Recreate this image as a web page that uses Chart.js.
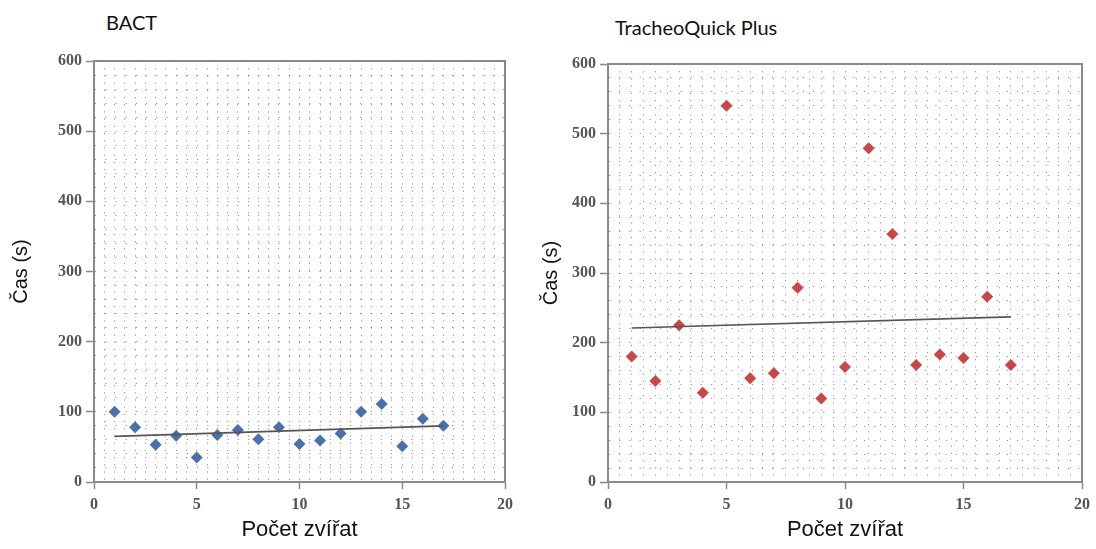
<!DOCTYPE html>
<html>
<head>
<meta charset="utf-8">
<script src="https://cdn.jsdelivr.net/npm/chart.js@4.4.1/dist/chart.umd.min.js"></script>
<style>
  html, body { margin: 0; padding: 0; background: #fff; }
  body { width: 1096px; height: 549px; position: relative; overflow: hidden; }
  .wrap { position: absolute; top: 0; height: 549px; }
  .title { position: absolute; font-family: Lato, "Noto Sans", sans-serif; font-size: 20px; line-height: 24px; color: #111; white-space: nowrap; }
</style>
</head>
<body>
<div class="title" style="left:106px; top:10px;">BACT</div>
<div class="title" style="left:615px; top:15px;">TracheoQuick Plus</div>
<div class="wrap" style="left:0; width:530px;"><canvas id="c1" width="530" height="549"></canvas></div>
<div class="wrap" style="left:530px; width:566px;"><canvas id="c2" width="566" height="549"></canvas></div>
<script>
// ---- data ----
const animals = [1, 2, 3, 4, 5, 6, 7, 8, 9, 10, 11, 12, 13, 14, 15, 16, 17];
const bactTimes = [100, 78, 53, 66, 35, 67, 74, 61, 78, 54, 59, 69, 100, 111, 51, 90, 80];
const tqpTimes  = [180, 145, 225, 128, 540, 149, 156, 279, 120, 165, 479, 356, 168, 183, 178, 266, 168];
const trendX    = [1, 17];
const bactTrend = [65, 80];
const tqpTrend  = [221, 237];
const xTickLabels = [0, 5, 10, 15, 20];
const yTickLabels = [0, 100, 200, 300, 400, 500, 600];
const xTitle = 'Počet zvířat';
const yTitle = 'Čas (s)';

function pts(xs, ys) { return xs.map((x, i) => ({ x: x, y: ys[i] })); }

const AXIS = '#8a8a8a';
const GRIDC = 'rgba(0,0,0,0.42)';

function makeChart(id, values, trend, color, cfg) {
  return new Chart(document.getElementById(id), {
    type: 'scatter',
    data: {
      datasets: [
        {
          data: pts(animals, values),
          pointStyle: 'rectRot',
          pointRadius: 6,
          pointHoverRadius: 6,
          backgroundColor: color,
          borderColor: color,
          borderWidth: 0,
          order: 2
        },
        {
          type: 'line',
          data: pts(trendX, trend),
          borderColor: '#555',
          borderWidth: 1.6,
          pointRadius: 0,
          fill: false,
          order: 1
        }
      ]
    },
    options: {
      responsive: false,
      animation: false,
      events: [],
      layout: { padding: { top: cfg.top, right: cfg.right, left: 0, bottom: 0 } },
      plugins: { legend: { display: false }, tooltip: { enabled: false }, title: { display: false } },
      scales: {
        x: {
          type: 'linear',
          position: 'bottom',
          min: 0, max: 20,
          afterBuildTicks: (s) => {
            const t = [];
            for (let i = 0; i <= 40; i++) t.push({ value: i / 2 });
            s.ticks = t;
          },
          afterFit: (s) => { s.height = 67; },
          ticks: {
            autoSkip: false,
            maxRotation: 0,
            padding: 6,
            color: '#555',
            font: { family: '"Liberation Serif", "DejaVu Serif", serif', size: 16, weight: 'bold' },
            callback: (v) => xTickLabels.includes(v) ? String(v) : ''
          },
          grid: {
            color: (c) => (c.tick && (c.tick.value === 0 || c.tick.value === 20)) ? 'rgba(0,0,0,0)' : GRIDC,
            lineWidth: 1,
            tickLength: 7,
            tickWidth: 1.5,
            tickColor: (c) => (c.tick && xTickLabels.includes(c.tick.value)) ? AXIS : 'rgba(0,0,0,0)'
          },
          border: { color: AXIS, width: 2, dash: [1.2, 6] },
          title: {
            display: true, text: xTitle, color: '#111',
            font: { family: '"Liberation Sans", Arial, sans-serif', size: 22 },
            padding: { top: 0, bottom: 6 }
          }
        },
        x2: {
          type: 'linear',
          position: 'top',
          min: 0, max: 20,
          ticks: { display: false },
          grid: { display: false, drawTicks: false },
          border: { color: AXIS, width: 2 }
        },
        y: {
          type: 'linear',
          min: 0, max: 600,
          afterBuildTicks: (s) => {
            const t = [];
            for (let v = 0; v <= 600; v += 20) t.push({ value: v });
            s.ticks = t;
          },
          afterFit: (s) => { s.width = cfg.yWidth; },
          ticks: {
            autoSkip: false,
            padding: 4,
            color: '#555',
            font: { family: '"Liberation Serif", "DejaVu Serif", serif', size: 16, weight: 'bold' },
            callback: (v) => yTickLabels.includes(v) ? String(v) : ''
          },
          grid: {
            color: (c) => (c.tick && (c.tick.value === 0 || c.tick.value === 600)) ? 'rgba(0,0,0,0)' : GRIDC,
            lineWidth: 1,
            tickLength: 8,
            tickWidth: 1.5,
            tickColor: (c) => (c.tick && yTickLabels.includes(c.tick.value)) ? AXIS : 'rgba(0,0,0,0)'
          },
          border: { color: AXIS, width: 2, dash: [1.2, 9] },
          title: {
            display: true, text: yTitle, color: '#111',
            font: { family: '"Liberation Sans", Arial, sans-serif', size: 20 },
            padding: { top: 9, bottom: 0 }
          }
        },
        y2: {
          type: 'linear',
          position: 'right',
          min: 0, max: 600,
          ticks: { display: false },
          grid: { display: false, drawTicks: false },
          border: { color: AXIS, width: 2 }
        }
      }
    }
  });
}

makeChart('c1', bactTimes, bactTrend, '#4a70ad', { top: 61, right: 25, yWidth: 94 });
makeChart('c2', tqpTimes, tqpTrend, '#cc4646', { top: 64, right: 10, yWidth: 78 });
</script>
</body>
</html>
